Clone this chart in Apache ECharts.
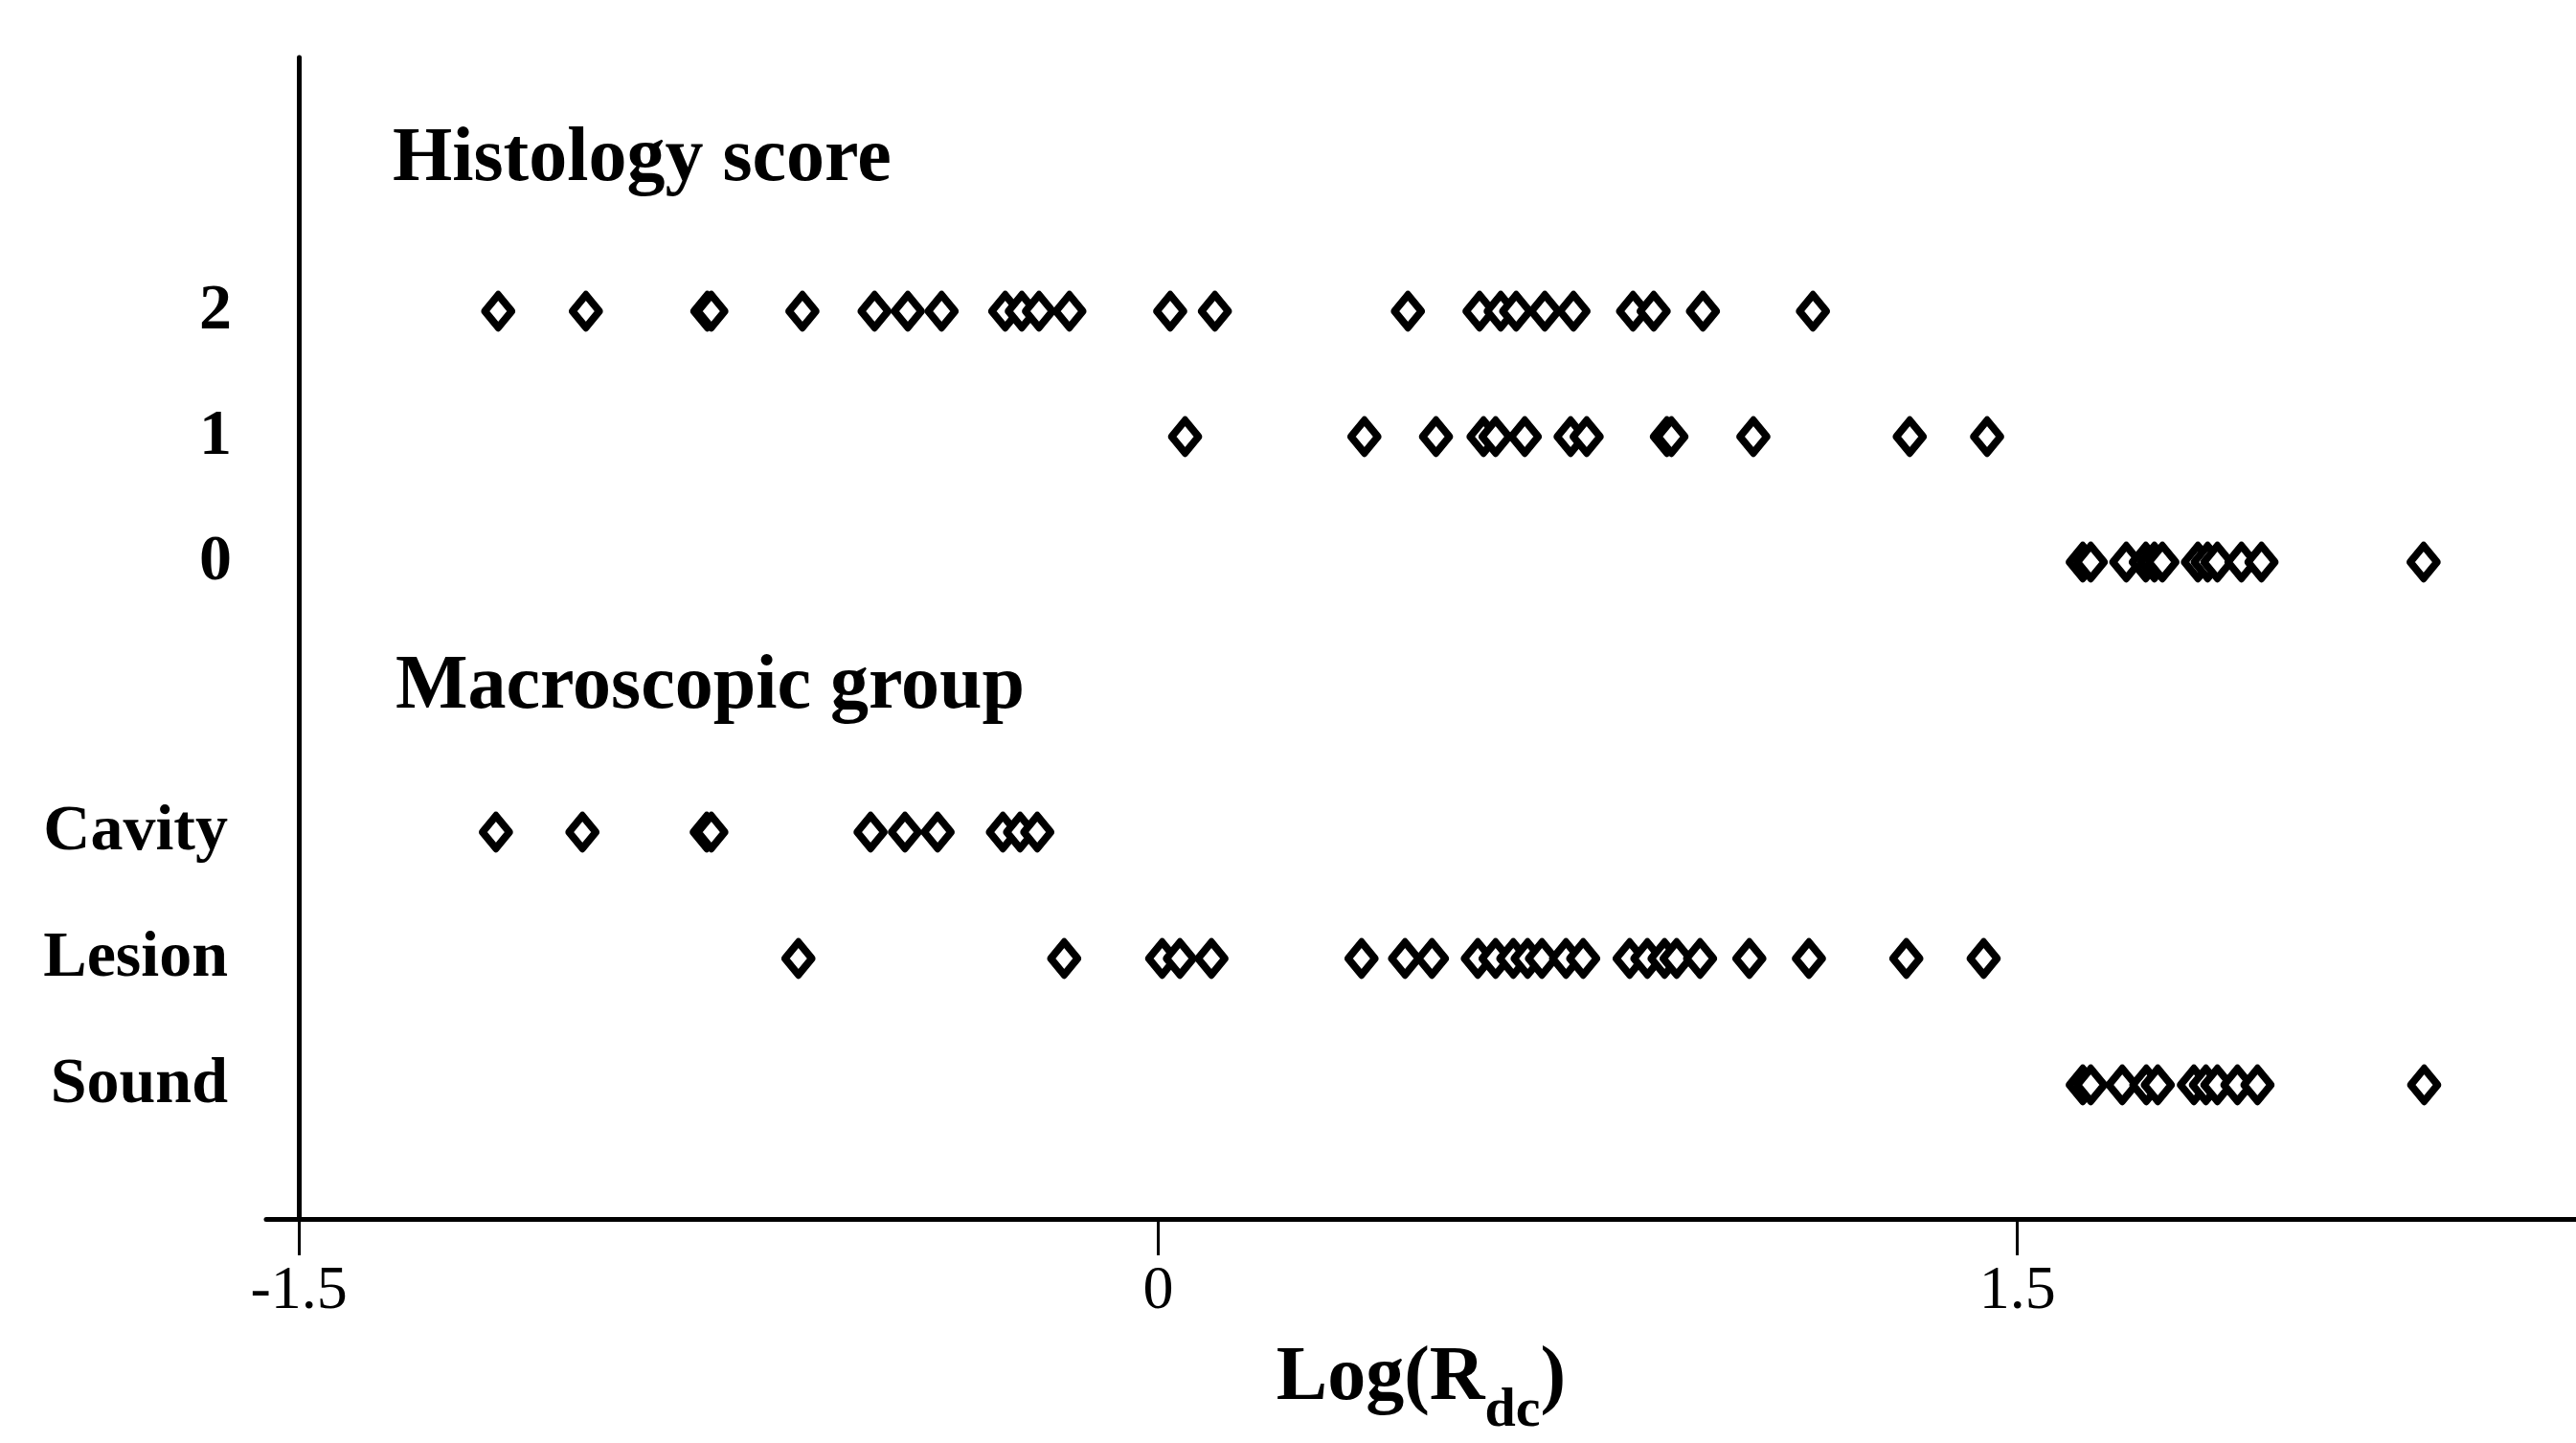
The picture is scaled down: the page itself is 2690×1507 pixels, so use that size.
<!DOCTYPE html>
<html>
<head>
<meta charset="utf-8">
<script src="https://cdn.jsdelivr.net/npm/echarts@6/dist/echarts.min.js"></script>
<style>
html, body { margin: 0; padding: 0; background: #ffffff; }
#chart { width: 2690px; height: 1507px; }
</style>
</head>
<body>
<div id="chart"></div>
<script>
// ---- data (Log(Rdc) values) ----
const histologyTitle = 'Histology score';
const macroTitle = 'Macroscopic group';
const xAxisTitleMain = 'Log(R';
const xAxisTitleSub = 'dc';
const xTickValues = [-1.5, 0, 1.5];
const scoreTicks = [0, 1, 2];
const groupCategories = ['Sound', 'Lesion', 'Cavity'];

const score2 = [-1.152, -0.999, -0.787, -0.780, -0.621, -0.495, -0.437, -0.378, -0.267, -0.238, -0.208, -0.155,
  0.021, 0.099, 0.436, 0.561, 0.598, 0.625, 0.675, 0.725, 0.829, 0.865, 0.951, 1.143];
const score1 = [0.047, 0.360, 0.485, 0.568, 0.589, 0.640, 0.720, 0.748, 0.888, 0.896, 1.039, 1.312, 1.447];
const score0 = [1.614, 1.628, 1.690, 1.724, 1.739, 1.753, 1.815, 1.832, 1.849, 1.891, 1.926, 2.209];

const cavity = [-1.156, -1.005, -0.788, -0.780, -0.502, -0.442, -0.385, -0.271, -0.241, -0.211];
const lesion = [-0.628, -0.164, 0.007, 0.038, 0.093, 0.355, 0.431, 0.478, 0.558, 0.589, 0.620, 0.645, 0.670,
  0.712, 0.742, 0.823, 0.854, 0.884, 0.905, 0.946, 1.032, 1.136, 1.306, 1.441];
const sound = [1.614, 1.628, 1.683, 1.725, 1.745, 1.808, 1.829, 1.849, 1.884, 1.919, 2.210];

// ---- layout / style ----
const SERIF = "'Liberation Serif', 'DejaVu Serif', serif";
const X_MIN = -1.557, X_MAX = 2.475;
const AXIS_OFFSET = -34;

const markerStyle = {
  type: 'scatter',
  symbol: 'diamond',
  symbolSize: [28, 34],
  itemStyle: { color: '#ffffff', borderColor: '#000000', borderWidth: 8, borderJoin: 'round', opacity: 1 },
  emphasis: { disabled: true },
  silent: true
};

function hiddenX(gridIndex) {
  return {
    type: 'value', gridIndex: gridIndex, min: X_MIN, max: X_MAX,
    show: false, splitLine: { show: false }, axisLine: { onZero: false }
  };
}

const chart = echarts.init(document.getElementById('chart'), null, { renderer: 'canvas' });

const option = {
  backgroundColor: '#ffffff',
  animation: false,
  title: [
    { text: histologyTitle, left: 410, top: 127, padding: 0,
      textStyle: { fontFamily: SERIF, fontWeight: 'bold', fontSize: 80, color: '#000' } },
    { text: macroTitle, left: 413, top: 678, padding: 0,
      textStyle: { fontFamily: SERIF, fontWeight: 'bold', fontSize: 80, color: '#000' } }
  ],
  grid: [
    { left: 278, right: 0, top: 60, bottom: 234, outerBoundsMode: 'none', containLabel: false },   // frame: axes
    { left: 278, right: 0, top: 63, bottom: 789, outerBoundsMode: 'none', containLabel: false },   // histology score rows
    { left: 278, right: 0, top: 803, bottom: 308, outerBoundsMode: 'none', containLabel: false }   // macroscopic group rows
  ],
  xAxis: [
    {
      type: 'value', gridIndex: 0, min: X_MIN, max: X_MAX,
      axisLine: { show: true, onZero: false, lineStyle: { color: '#000', width: 5 } },
      axisTick: { show: true, customValues: xTickValues, length: 38, lineStyle: { color: '#000', width: 3 } },
      axisLabel: {
        show: true, customValues: xTickValues, margin: 44,
        fontFamily: SERIF, fontSize: 64, color: '#000',
        formatter: function (v) { return String(v); }
      },
      splitLine: { show: false },
      name: '{m|' + xAxisTitleMain + '}{s|' + xAxisTitleSub + '}{m|)}',
      nameLocation: 'middle',
      nameGap: 127,
      nameTextStyle: {
        rich: {
          m: { fontFamily: SERIF, fontWeight: 'bold', fontSize: 80, color: '#000', lineHeight: 80, verticalAlign: 'top' },
          s: { fontFamily: SERIF, fontWeight: 'bold', fontSize: 58, color: '#000', lineHeight: 103, verticalAlign: 'bottom' }
        }
      }
    },
    hiddenX(1),
    hiddenX(2)
  ],
  yAxis: [
    {
      type: 'value', gridIndex: 0, min: 0, max: 1, offset: AXIS_OFFSET,
      axisLine: { show: true, onZero: false, lineStyle: { color: '#000', width: 5 } },
      axisTick: { show: false }, axisLabel: { show: false }, splitLine: { show: false }
    },
    {
      type: 'value', gridIndex: 1, min: -1, max: 4, offset: AXIS_OFFSET,
      axisLine: { show: false, onZero: false }, axisTick: { show: false }, splitLine: { show: false },
      axisLabel: {
        show: true, customValues: scoreTicks, margin: 70,
        fontFamily: SERIF, fontWeight: 'bold', fontSize: 68, color: '#000'
      }
    },
    {
      type: 'category', gridIndex: 2, data: groupCategories, offset: AXIS_OFFSET,
      axisLine: { show: false, onZero: false }, axisTick: { show: false }, splitLine: { show: false },
      axisLabel: {
        show: true, margin: 74, interval: 0,
        fontFamily: SERIF, fontWeight: 'bold', fontSize: 68, color: '#000'
      }
    }
  ],
  series: [
    Object.assign({}, markerStyle, { name: '2', xAxisIndex: 1, yAxisIndex: 1, data: score2.map(v => [v, 2]) }),
    Object.assign({}, markerStyle, { name: '1', xAxisIndex: 1, yAxisIndex: 1, data: score1.map(v => [v, 1]) }),
    Object.assign({}, markerStyle, { name: '0', xAxisIndex: 1, yAxisIndex: 1, data: score0.map(v => [v, 0]) }),
    Object.assign({}, markerStyle, { name: 'Cavity', xAxisIndex: 2, yAxisIndex: 2, data: cavity.map(v => [v, 'Cavity']) }),
    Object.assign({}, markerStyle, { name: 'Lesion', xAxisIndex: 2, yAxisIndex: 2, data: lesion.map(v => [v, 'Lesion']) }),
    Object.assign({}, markerStyle, { name: 'Sound', xAxisIndex: 2, yAxisIndex: 2, data: sound.map(v => [v, 'Sound']) })
  ]
};

chart.setOption(option);
</script>
</body>
</html>
